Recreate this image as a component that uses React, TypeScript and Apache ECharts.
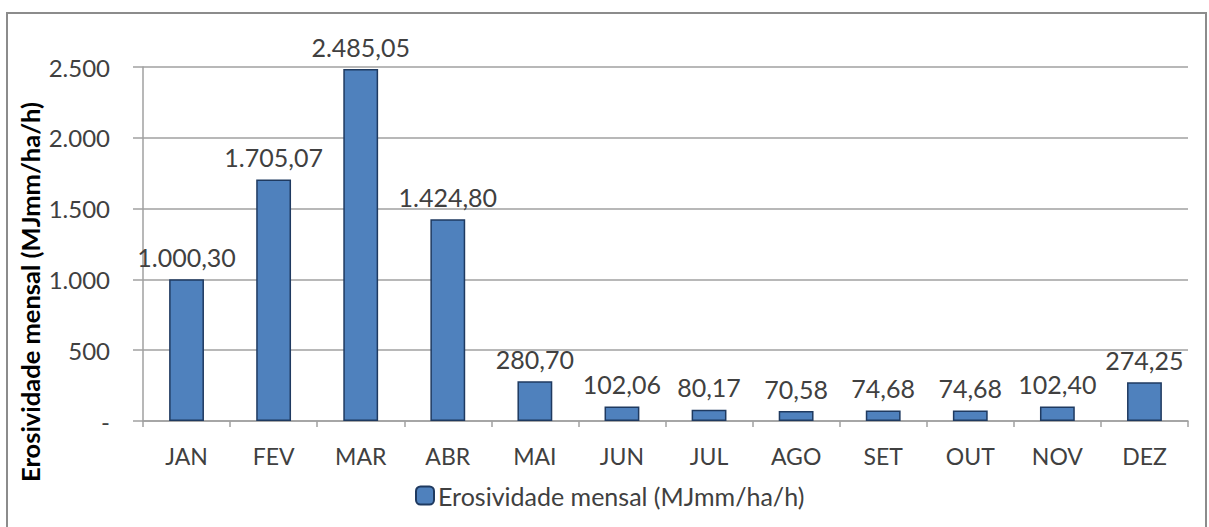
import React, { useEffect, useRef } from "react";
import * as echarts from "echarts";

const months = ["JAN", "FEV", "MAR", "ABR", "MAI", "JUN", "JUL", "AGO", "SET", "OUT", "NOV", "DEZ"];
const erosividade = [1000.3, 1705.07, 2485.05, 1424.8, 280.7, 102.06, 80.17, 70.58, 74.68, 74.68, 102.4, 274.25];
const yTicks = [0, 500, 1000, 1500, 2000, 2500];
const seriesName = "Erosividade mensal (MJmm/ha/h)";

const fmtThousands = (v: number) => {
  if (v === 0) return "-";
  return Math.round(v).toString().replace(/\B(?=(\d{3})+(?!\d))/g, ".");
};
const fmtValue = (v: number) => {
  const [i, d] = v.toFixed(2).split(".");
  return i.replace(/\B(?=(\d{3})+(?!\d))/g, ".") + "," + d;
};

const FONT = "Lato, 'Open Sans', sans-serif";

export default function App() {
  const ref = useRef<HTMLDivElement>(null);
  useEffect(() => {
    if (!ref.current) return;
    const chart = echarts.init(ref.current, undefined, { renderer: "svg" });
    chart.setOption({
      animation: false,
      backgroundColor: "#ffffff",
      textStyle: { fontFamily: FONT },
      graphic: [
        {
          type: "rect",
          shape: { x: 7, y: 13, width: 1199, height: 530 },
          style: { fill: "none", stroke: "#8c8c8c", lineWidth: 2 },
          silent: true,
        },
        {
          type: "text",
          x: 30,
          y: 292,
          rotation: Math.PI / 2,
          style: {
            text: seriesName,
            fontFamily: FONT,
            fontSize: 25.5,
            fontWeight: "bold",
            fill: "#000",
            align: "center",
            verticalAlign: "middle",
          },
          silent: true,
        },
      ],
      grid: { left: 143, right: 21, top: 67, bottom: 106 },
      legend: {
        left: 410,
        top: 478,
        itemWidth: 18,
        itemHeight: 18,
        itemGap: 4,
        data: [seriesName],
        textStyle: { fontFamily: FONT, fontSize: 25, color: "#404040", padding: [0, 0, 0, -1] },
      },
      xAxis: {
        type: "category",
        data: months,
        boundaryGap: true,
        axisLine: { lineStyle: { color: "#a0a0a0", width: 1.5 } },
        axisTick: { show: true, length: 6, lineStyle: { color: "#a0a0a0", width: 1.5 } },
        axisLabel: { fontFamily: FONT, fontSize: 23, color: "#404040", margin: 23 },
      },
      yAxis: {
        type: "value",
        min: 0,
        max: 2500,
        interval: 500,
        axisLine: { show: true, lineStyle: { color: "#a0a0a0", width: 1.5 } },
        axisTick: { show: true, length: 10, lineStyle: { color: "#a0a0a0", width: 1.5 } },
        splitLine: { show: true, lineStyle: { color: "#a0a0a0", width: 1.5 } },
        axisLabel: {
          fontFamily: FONT,
          fontSize: 24,
          color: "#404040",
          margin: 33,
          formatter: (v: number) => (yTicks.includes(v) ? fmtThousands(v) : ""),
        },
      },
      series: [
        {
          name: seriesName,
          type: "bar",
          data: erosividade,
          barWidth: "40%",
          itemStyle: { color: "#4f81bd", borderColor: "#1f3a60", borderWidth: 1.5 },
          label: {
            show: true,
            position: "top",
            distance: 10,
            fontFamily: FONT,
            fontSize: 25,
            color: "#404040",
            formatter: (p: any) => fmtValue(p.value),
          },
        },
      ],
    });
    return () => chart.dispose();
  }, []);
  return <div ref={ref} style={{ position: "fixed", left: 0, top: 0, width: 1209, height: 527 }} />;
}
